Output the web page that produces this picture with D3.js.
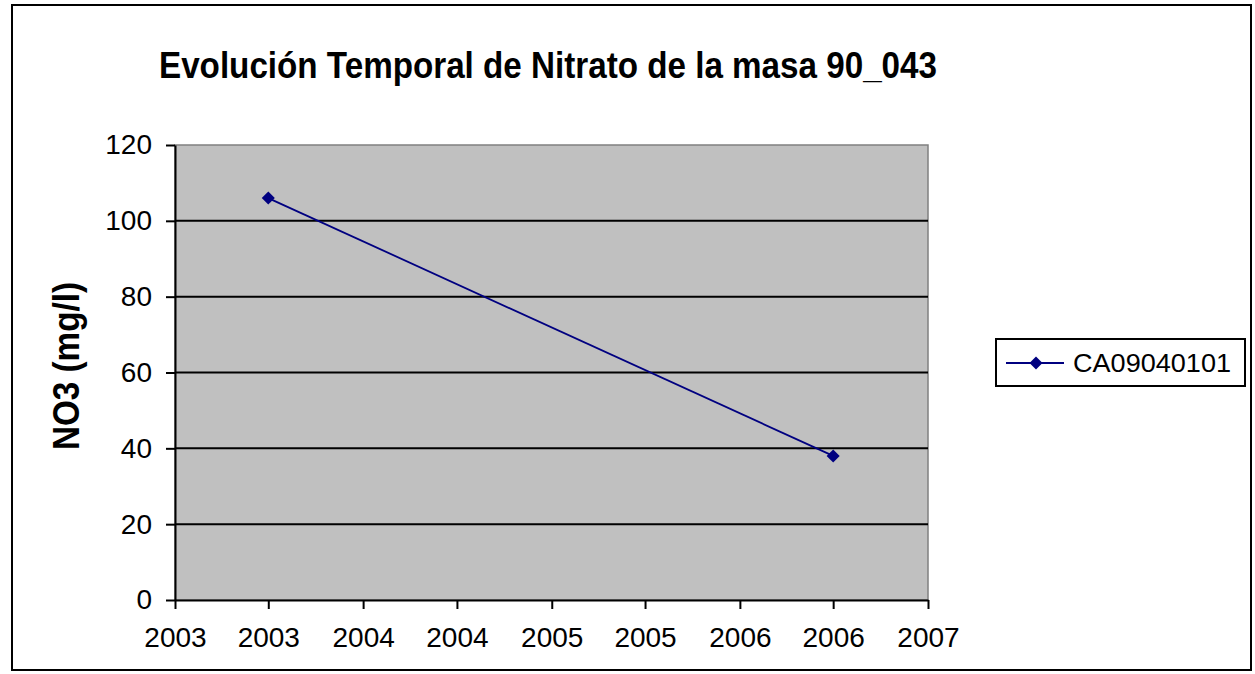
<!DOCTYPE html>
<html>
<head>
<meta charset="utf-8">
<script src="https://cdn.jsdelivr.net/npm/d3@7"></script>
<style>
  body { margin: 0; background: #fff; }
  text { font-family: "Liberation Sans", Arial, sans-serif; }
</style>
</head>
<body>
<div id="chart"></div>
<script>
const title = 'Evolución Temporal de Nitrato de la masa 90_043';
const yLabel = 'NO3 (mg/l)';
const seriesName = 'CA09040101';
const dates = ['2003-07-01', '2006-07-01'];
const values = [106, 38];
const yTicks = [0, 20, 40, 60, 80, 100, 120];
const xDomain = ['2003-01-01', '2007-01-01'];

const width = 1255;
const height = 674;
const parse = d3.utcParse('%Y-%m-%d');

const svg = d3.select('#chart').append('svg')
    .attr('width', width)
    .attr('height', height);

// outer chart frame
svg.append('rect')
    .attr('x', 12).attr('y', 5)
    .attr('width', 1239).attr('height', 665)
    .attr('fill', '#fff')
    .attr('stroke', '#000')
    .attr('stroke-width', 2);

const plot = { left: 175, right: 928, top: 145, bottom: 600 };

const x = d3.scaleUtc()
    .domain(xDomain.map(parse))
    .range([plot.left, plot.right]);

const y = d3.scaleLinear()
    .domain([0, 120])
    .range([plot.bottom, plot.top]);

// plot area
svg.append('rect')
    .attr('x', plot.left).attr('y', plot.top)
    .attr('width', plot.right - plot.left)
    .attr('height', plot.bottom - plot.top)
    .attr('fill', '#c0c0c0')
    .attr('stroke', '#808080')
    .attr('stroke-width', 1.5);

// gridlines
svg.append('g')
    .selectAll('line')
    .data(yTicks.filter(d => d > 0 && d < 120))
    .join('line')
    .attr('x1', plot.left).attr('x2', plot.right)
    .attr('y1', d => y(d)).attr('y2', d => y(d))
    .attr('stroke', '#000')
    .attr('stroke-width', 2);

// y axis
const yAxis = svg.append('g')
    .attr('transform', `translate(${plot.left},0)`)
    .call(d3.axisLeft(y).tickValues(yTicks).tickSize(9).tickPadding(14).tickSizeOuter(0));

// x axis
const xTickValues = d3.utcMonth.every(6).range(parse(xDomain[0]), d3.utcDay.offset(parse(xDomain[1]), 1));
const xAxis = svg.append('g')
    .attr('transform', `translate(0,${plot.bottom})`)
    .call(d3.axisBottom(x).tickValues(xTickValues).tickFormat(d3.utcFormat('%Y')).tickSize(9).tickPadding(18).tickSizeOuter(0));

[yAxis, xAxis].forEach(g => {
    g.select('.domain').attr('stroke', '#000').attr('stroke-width', 2);
    g.selectAll('.tick line').attr('stroke', '#000').attr('stroke-width', 2);
    g.selectAll('.tick text')
        .attr('fill', '#000')
        .style('font-size', '28px')
        .style('font-family', '"Liberation Sans", Arial, sans-serif');
});

// title
svg.append('text')
    .attr('x', 548).attr('y', 78)
    .attr('text-anchor', 'middle')
    .attr('font-size', 37)
    .attr('font-weight', 'bold')
    .attr('textLength', 778)
    .attr('lengthAdjust', 'spacingAndGlyphs')
    .text(title);

// y axis title
svg.append('text')
    .attr('transform', 'translate(79,366) rotate(-90)')
    .attr('text-anchor', 'middle')
    .attr('font-size', 36)
    .attr('font-weight', 'bold')
    .attr('textLength', 168)
    .attr('lengthAdjust', 'spacingAndGlyphs')
    .text(yLabel);

// series
const points = dates.map((d, i) => ({ date: parse(d), value: values[i] }));
const color = '#000080';

svg.append('path')
    .datum(points)
    .attr('fill', 'none')
    .attr('stroke', color)
    .attr('stroke-width', 1.8)
    .attr('d', d3.line().x(d => x(d.date)).y(d => y(d.value)));

const diamond = d3.symbol(d3.symbolSquare, 85);
svg.append('g')
    .selectAll('path')
    .data(points)
    .join('path')
    .attr('d', diamond)
    .attr('transform', d => `translate(${x(d.date)},${y(d.value)}) rotate(45)`)
    .attr('fill', color);

// legend
const legend = svg.append('g').attr('transform', 'translate(996,339)');
legend.append('rect')
    .attr('width', 249).attr('height', 47)
    .attr('fill', '#fff')
    .attr('stroke', '#000')
    .attr('stroke-width', 2);
legend.append('line')
    .attr('x1', 10).attr('x2', 68)
    .attr('y1', 24).attr('y2', 24)
    .attr('stroke', color)
    .attr('stroke-width', 1.8);
legend.append('path')
    .attr('d', diamond)
    .attr('transform', 'translate(40,24) rotate(45)')
    .attr('fill', color);
legend.append('text')
    .attr('x', 77).attr('y', 33)
    .attr('font-size', 26)
    .attr('textLength', 158)
    .attr('lengthAdjust', 'spacingAndGlyphs')
    .text(seriesName);
</script>
</body>
</html>
